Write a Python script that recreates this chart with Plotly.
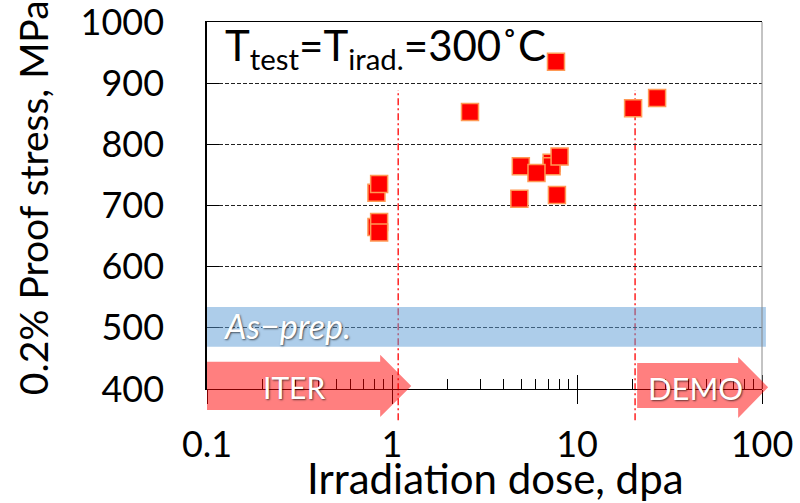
import plotly.graph_objects as go

# ---- data ----
dose = [0.824, 0.852, 0.824, 0.852, 0.852, 2.64, 7.29, 7.29, 8.05, 4.97, 6.04, 4.88, 7.79, 7.7, 20.1, 27.1]
stress = [721, 735, 665, 673, 656, 853, 770, 764, 780, 764, 753, 711, 717, 935, 859, 876]

x_tickvals = [0.1, 1, 10, 100]
x_ticktext = ["0.1", "1", "10", "100"]
x_minor = [0.2, 0.3, 0.4, 0.5, 0.6, 0.7, 0.8, 0.9,
           2, 3, 4, 5, 6, 7, 8, 9,
           20, 30, 40, 50, 60, 70, 80, 90]
y_tickvals = [400, 500, 600, 700, 800, 900, 1000]
y_range = [399.9, 1000.1]
ref_doses = [1.08, 20.6]          # red dash-dot reference lines
asprep_band = [469, 534]          # as-prepared stress band (MPa)

FONT = "Lato, 'Open Sans', sans-serif"

fig = go.Figure()

fig.add_trace(go.Scatter(
    x=dose, y=stress, mode="markers",
    marker=dict(symbol="square", size=17, color="#ff0000",
                line=dict(color="#ff9955", width=1.5)),
    showlegend=False, hoverinfo="skip"))

# dummy trace to activate the overlay axis used for minor ticks
fig.add_trace(go.Scatter(x=[1], y=[700], xaxis="x2", mode="markers",
                         marker=dict(opacity=0), showlegend=False, hoverinfo="skip"))

shapes = []
for d in ref_doses:
    shapes.append(dict(type="line", xref="x", yref="paper", x0=d, x1=d, y0=-0.085, y1=0.815,
                       line=dict(color="#ff0000", width=1.3, dash="7px,3px,2px,3px"), layer="below"))
shapes.append(dict(type="rect", xref="x domain", yref="y", x0=0, x1=1.007,
                   y0=asprep_band[0], y1=asprep_band[1],
                   fillcolor="#5b9bd5", opacity=0.5, line=dict(width=0), layer="above"))
shapes.append(dict(type="line", xref="paper", yref="paper", x0=1, x1=1, y0=0, y1=1,
                   line=dict(color="#888888", width=1)))
shapes.append(dict(type="path", xref="paper", yref="paper",
                   path="M 0,-0.057 L 0.312,-0.057 L 0.312,-0.076 L 0.368,0.008 L 0.312,0.093 L 0.312,0.074 L 0,0.074 Z",
                   fillcolor="#ff0000", opacity=0.5, line=dict(width=0), layer="above"))
shapes.append(dict(type="path", xref="paper", yref="paper",
                   path="M 0.775,-0.052 L 0.957,-0.052 L 0.957,-0.079 L 1.011,0.005 L 0.957,0.087 L 0.957,0.071 L 0.775,0.071 Z",
                   fillcolor="#ff0000", opacity=0.5, line=dict(width=0), layer="above"))

shadow = "1px 1px 2px rgba(0,0,0,0.6)"
annotations = [
    dict(text="T<sub>test</sub>=T<sub>irad.</sub>=300˚C", xref="paper", yref="paper",
         x=0.028, y=0.93, xanchor="left", yanchor="middle", showarrow=False,
         font=dict(family=FONT, size=42, color="black")),
    dict(text="<i>As−prep.</i>", xref="paper", yref="paper", x=0.025, y=0.174,
         xanchor="left", yanchor="middle", showarrow=False,
         font=dict(family=FONT, size=34, color="white", shadow=shadow)),
    dict(text="ITER", xref="paper", yref="paper", x=0.157, y=0.005,
         xanchor="center", yanchor="middle", showarrow=False,
         font=dict(family=FONT, size=30, color="white", shadow=shadow)),
    dict(text="DEMO", xref="paper", yref="paper", x=0.881, y=0.003,
         xanchor="center", yanchor="middle", showarrow=False,
         font=dict(family=FONT, size=31, color="white", shadow=shadow)),
    dict(text="Irradiation dose, dpa", xref="paper", yref="paper", x=0.519, y=-0.243,
         xanchor="center", yanchor="middle", showarrow=False,
         font=dict(family=FONT, size=42, color="black")),
    dict(text="0.2% Proof stress, MPa", xref="paper", yref="paper", x=-0.3135, y=0.52,
         xanchor="center", yanchor="middle", showarrow=False, textangle=-90,
         font=dict(family=FONT, size=39, color="black")),
]

fig.update_layout(
    width=800, height=503,
    margin=dict(l=207, r=38, t=22, b=114, autoexpand=False),
    paper_bgcolor="white", plot_bgcolor="white",
    font=dict(family=FONT, color="black"),
    shapes=shapes, annotations=annotations,
    xaxis=dict(type="log", range=[-1, 2], tickmode="array", tickvals=x_tickvals, ticktext=x_ticktext,
               ticks="outside", ticklen=14, tickwidth=1.2, tickcolor="black",
               minor=dict(ticks="inside", ticklen=14, tickwidth=1.2, tickcolor="black",
                          tickmode="array", tickvals=[1, 10, 100], showgrid=False),
               showline=True, linecolor="black", linewidth=1.2, mirror=True,
               showgrid=False, zeroline=False, ticklabelstandoff=10, automargin=False,
               ticklabeloverflow="allow", tickfont=dict(size=36)),
    xaxis2=dict(type="log", range=[-1, 2], overlaying="x", side="bottom", anchor="y",
                tickmode="array", tickvals=x_minor, ticks="inside", ticklen=10, tickwidth=1,
                tickcolor="black", showticklabels=False, showgrid=False, showline=False,
                zeroline=False, automargin=False),
    yaxis=dict(range=y_range, tickmode="array", tickvals=y_tickvals, ticks="inside", ticklen=12,
               tickwidth=1.2, tickcolor="black", showgrid=True, gridcolor="#222222",
               griddash="4px,2px", gridwidth=1, showline=True, linecolor="black", linewidth=1.5,
               zeroline=False, ticklabelstandoff=34, ticklabeloverflow="allow", automargin=False,
               tickfont=dict(size=36)),
)

fig.write_html("out.html")
